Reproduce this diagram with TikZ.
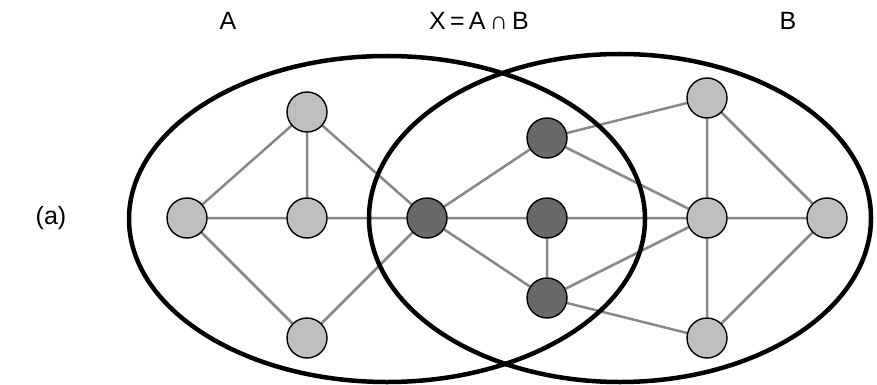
\documentclass[tikz,border=0pt]{standalone}
\usepackage{fontspec}
\setmainfont{Liberation Sans}
\usetikzlibrary{backgrounds}

\begin{document}
\begin{tikzpicture}[
    x=1pt, y=-1pt,
    font=\fontsize{25}{29}\selectfont,
    vtx/.style={circle, draw, line width=1.4pt, fill=black!25, minimum size=40pt, inner sep=0pt},
    inter/.style={vtx, fill=black!59},
    link/.style={draw=black!47, line width=2.5pt},
    setline/.style={draw, line width=4.5pt}
]
\useasboundingbox (0,0) rectangle (877,385);
% titles
\node (tA) at (228,21) {A};
\node (tX) at (479,21) {X\hspace{0.17em}=\hspace{0.17em}A\hspace{0.17em}∩\hspace{0.17em}B};
\node (tB) at (788,21) {B};
\node (tcase) at (51,218) {(a)};
% vertices of A only
\node[vtx] (al) at (187,218) {};
\node[vtx] (at) at (307,112) {};
\node[vtx] (am) at (307,218) {};
\node[vtx] (ab) at (307,338) {};
% shared vertices
\node[inter] (x1) at (427,218) {};
\node[inter] (xt) at (547,138) {};
\node[inter] (xm) at (547,218) {};
\node[inter] (xb) at (547,298) {};
% vertices of B only
\node[vtx] (bt) at (707,98) {};
\node[vtx] (bm) at (707,218) {};
\node[vtx] (bb) at (707,338) {};
\node[vtx] (br) at (827,218) {};
\begin{scope}[on background layer]
% edges
\draw[link] (al) -- (at) (al) -- (am) (al) -- (ab) (at) -- (am);
\draw[link] (at) -- (x1) (am) -- (x1) (ab) -- (x1);
\draw[link] (x1) -- (xt) (x1) -- (xm) (x1) -- (xb) (xm) -- (xb);
\draw[link] (xt) -- (bt) (xt) -- (bm) (xm) -- (bm) (xb) -- (bm) (xb) -- (bb);
\draw[link] (bt) -- (bm) (bt) -- (br) (bm) -- (br) (bm) -- (bb) (bb) -- (br);
% the two sets
\draw[setline] (387,219) ellipse [x radius=258, y radius=163];
\draw[setline] (620,218) ellipse [x radius=251, y radius=164];
\end{scope}
\end{tikzpicture}
\end{document}
